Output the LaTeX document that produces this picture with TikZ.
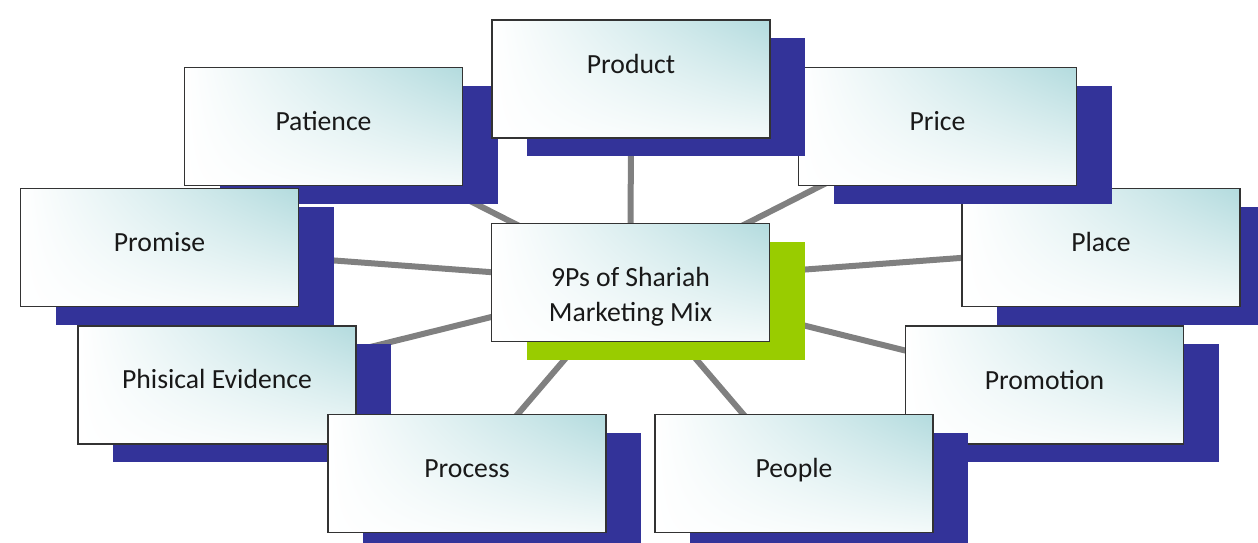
\documentclass[tikz,border=0pt]{standalone}
\usepackage{fontspec}
\setmainfont{Carlito}
\usetikzlibrary{shadows,shadings}
\definecolor{shblue}{HTML}{333399}
\definecolor{shgreen}{HTML}{99CC00}
\definecolor{tealc}{HTML}{B3DBDE}
\definecolor{tealb}{HTML}{F4FAFA}
\definecolor{linkgray}{HTML}{808080}
\tikzset{
  pbox/.style={rectangle, draw=black!80, line width=1.6pt, minimum width=278pt, minimum height=118pt, inner sep=0pt,
    upper left=white, lower left=white, upper right=tealc, lower right=tealb,
    general shadow={fill=#1, shadow xshift=35pt, shadow yshift=-18pt}},
  pbox/.default=shblue,
  ptext/.style={anchor=base, font=\fontsize{27.7}{35.5}\selectfont, text=black!90, inner sep=0pt},
  link/.style={draw=linkgray, line width=6pt}
}
\begin{document}
\begin{tikzpicture}[x=1pt,y=-1pt]
\useasboundingbox (0,0) rectangle (1258,542);
% centres
\coordinate (cC) at (630.5,282.5);
\coordinate (cProduct) at (631,79);
\coordinate (cPatience) at (323.5,126.5);
\coordinate (cPrice) at (937.5,126.5);
\coordinate (cPromise) at (159.5,247.5);
\coordinate (cPlace) at (1101,247.5);
\coordinate (cPhis) at (217,385);
\coordinate (cPromotion) at (1044.5,385);
\coordinate (cProcess) at (467,473.5);
\coordinate (cPeople) at (794,473.5);
% connectors
\foreach \n in {Product,Patience,Price,Promise,Place,Phis,Promotion,Process,People}
  \draw[link] (cC) -- (c\n);
% boxes
\node[pbox] (Place) at (cPlace) {};
\node[pbox] (Price) at (cPrice) {};
\node[pbox] (Patience) at (cPatience) {};
\node[pbox] (Product) at (cProduct) {};
\node[pbox] (Promise) at (cPromise) {};
\node[pbox] (Phis) at (cPhis) {};
\node[pbox] (Process) at (cProcess) {};
\node[pbox] (Promotion) at (cPromotion) {};
\node[pbox] (People) at (cPeople) {};
\node[pbox=shgreen] (Center) at (cC) {};
% texts
\node[ptext] (tProduct) at (631,73) {Product};
\node[ptext] (tPatience) at (323.5,130) {Patience};
\node[ptext] (tPrice) at (937.5,130) {Price};
\node[ptext] (tPromise) at (159.5,251) {Promise};
\node[ptext] (tPlace) at (1101,251) {Place};
\node[ptext] (tPhis) at (217,388) {Phisical Evidence};
\node[ptext] (tPromotion) at (1044.5,389) {Promotion};
\node[ptext] (tProcess) at (467,477) {Process};
\node[ptext] (tPeople) at (794,477) {People};
\node[ptext] (tC1) at (630.5,286) {9Ps of Shariah};
\node[ptext] (tC2) at (630.5,321.5) {Marketing Mix};
\end{tikzpicture}
\end{document}
